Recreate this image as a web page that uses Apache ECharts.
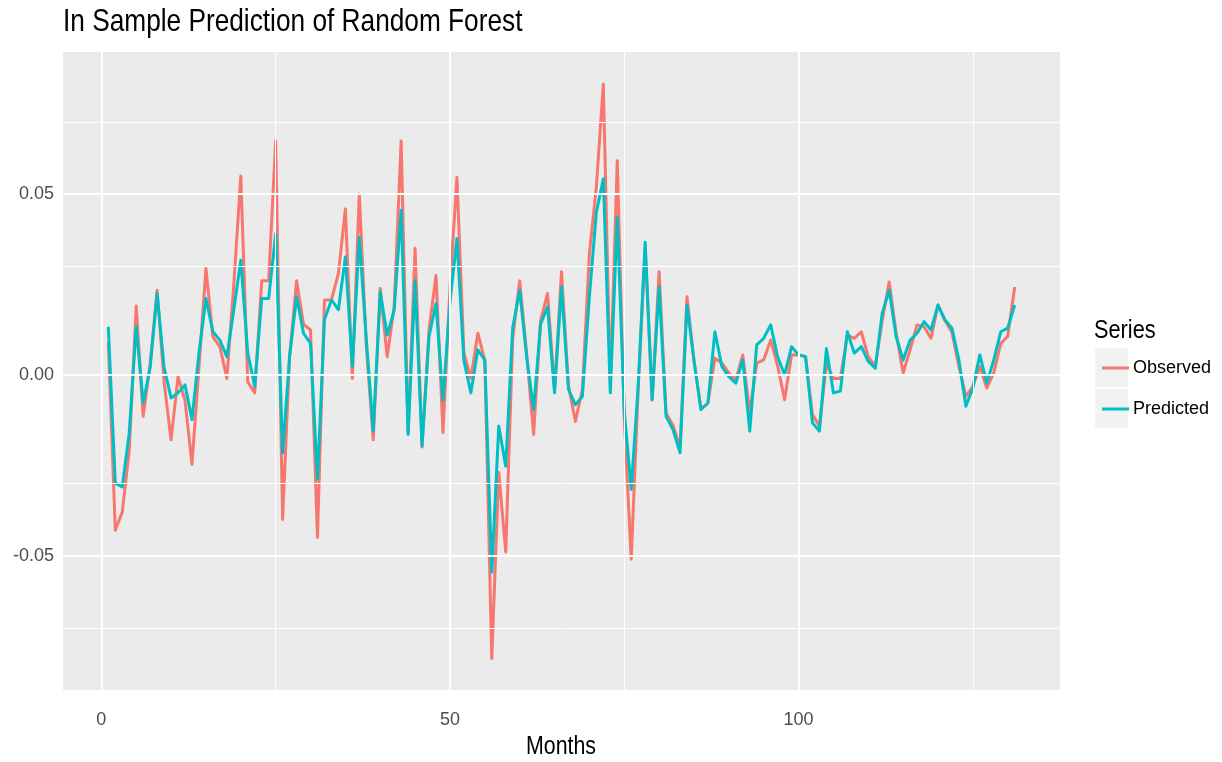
<!DOCTYPE html>
<html>
<head>
<meta charset="utf-8">
<title>In Sample Prediction of Random Forest</title>
<script src="https://cdn.jsdelivr.net/npm/echarts@6/dist/echarts.min.js"></script>
<style>
  html, body { margin: 0; padding: 0; background: #ffffff; }
  #chart { width: 1222px; height: 762px; }
</style>
</head>
<body>
<div id="chart"></div>
<script>
// Monthly returns, month 1 .. 131
const seriesNames = ['Observed', 'Predicted'];

const observed = [
  0.009, -0.043, -0.038, -0.021, 0.019, -0.0115, 0.003, 0.0234, -0.002, -0.018,
  -0.0005, -0.007, -0.0248, 0.002, 0.0294, 0.0105, 0.0078, -0.001, 0.025, 0.055,
  -0.002, -0.005, 0.026, 0.026, 0.0647, -0.040, 0.005, 0.026, 0.014, 0.0124,
  -0.045, 0.0207, 0.0207, 0.028, 0.0459, -0.001, 0.050, 0.008, -0.018, 0.0239,
  0.005, 0.0188, 0.0647, -0.016, 0.035, -0.020, 0.0124, 0.0275, -0.016, 0.024,
  0.0546, 0.006, -0.001, 0.0115, 0.004, -0.0785, -0.027, -0.049, 0.010, 0.026,
  0.006, -0.0165, 0.015, 0.0225, -0.004, 0.0285, -0.003, -0.0129, -0.004, 0.0335,
  0.052, 0.0804, -0.003, 0.0592, -0.012, -0.051, -0.004, 0.0353, -0.007, 0.0285,
  -0.0106, -0.014, -0.020, 0.0216, 0.004, -0.0096, -0.0078, 0.0046, 0.0032, 0.0005,
  -0.0014, 0.0055, -0.0106, 0.0032, 0.0041, 0.0096, 0.0025, -0.0069, 0.0055, 0.0055,
  0.005, -0.011, -0.0142, 0.003, -0.001, -0.001, 0.011, 0.0101, 0.0119, 0.005,
  0.0023, 0.015, 0.0257, 0.0115, 0.0005, 0.0069, 0.0138, 0.0133, 0.0101, 0.0193,
  0.015, 0.0118, 0.0023, -0.006, -0.0032, 0.0023, -0.0037, 0.0005, 0.0087, 0.0106,
  0.0243
];

const predicted = [
  0.0133, -0.030, -0.031, -0.016, 0.0133, -0.0078, 0.002, 0.0225, 0.002, -0.0064,
  -0.005, -0.0028, -0.0124, 0.006, 0.0211, 0.0119, 0.0096, 0.005, 0.018, 0.0317,
  0.006, -0.0032, 0.0211, 0.0211, 0.039, -0.0216, 0.005, 0.0216, 0.0115, 0.0087,
  -0.0289, 0.0152, 0.0207, 0.018, 0.0326, 0.0023, 0.038, 0.010, -0.0156, 0.0229,
  0.011, 0.0179, 0.0455, -0.0165, 0.026, -0.0197, 0.0106, 0.0197, -0.007, 0.020,
  0.0377, 0.004, -0.005, 0.0069, 0.0041, -0.0546, -0.0142, -0.0253, 0.013, 0.0234,
  0.005, -0.0096, 0.014, 0.0188, -0.005, 0.0243, -0.004, -0.0083, -0.006, 0.0216,
  0.045, 0.0542, -0.005, 0.0436, -0.010, -0.0317, -0.003, 0.0367, -0.0069, 0.0243,
  -0.0115, -0.0152, -0.0216, 0.0193, 0.004, -0.0096, -0.0078, 0.0119, 0.0023, -0.0005,
  -0.0023, 0.0041, -0.0156, 0.0083, 0.0101, 0.0138, 0.005, 0.0, 0.0078, 0.0055,
  0.0051, -0.0133, -0.0156, 0.0073, -0.005, -0.0045, 0.0119, 0.006, 0.0078, 0.0037,
  0.0018, 0.017, 0.0234, 0.0106, 0.0041, 0.0096, 0.0115, 0.0147, 0.0124, 0.0193,
  0.0152, 0.0129, 0.0041, -0.0087, -0.0037, 0.0055, -0.0023, 0.0041, 0.0119, 0.0129,
  0.0193
];

// Axis breaks
const xMajorTicks = [0, 50, 100];
const xMinorTicks = [25, 75, 125];
const yMajorTicks = [-0.05, 0, 0.05];
const yMinorTicks = [-0.075, -0.025, 0.025, 0.075];

const FONT = "'Liberation Sans', Arial, sans-serif";
const NARROW = 0.82;               // horizontal squeeze for the large text
const COLORS = ['#F8766D', '#00BFC4'];

// Panel grid: thin minor lines first, major lines on top
const gridLines = [
  ...yMinorTicks.map(v => ({ yAxis: v, lineStyle: { width: 1 } })),
  ...xMinorTicks.map(v => ({ xAxis: v, lineStyle: { width: 1 } })),
  ...yMajorTicks.map(v => ({ yAxis: v, lineStyle: { width: 2 } })),
  ...xMajorTicks.map(v => ({ xAxis: v, lineStyle: { width: 2 } }))
];

const toPoints = arr => arr.map((v, i) => [i + 1, v]);

const narrowText = (text, x, y, size, align) => ({
  type: 'text', x: x, y: y, scaleX: NARROW, silent: true,
  style: { text: text, fontFamily: FONT, fontSize: size, fill: '#000000', align: align, verticalAlign: 'middle' }
});

const chart = echarts.init(document.getElementById('chart'), null, { renderer: 'canvas' });

chart.setOption({
  animation: false,
  backgroundColor: '#ffffff',
  grid: {
    left: 63, right: 162, top: 52, bottom: 72,
    show: true, backgroundColor: '#EBEBEB', borderWidth: 0
  },
  legend: {
    data: seriesNames,
    orient: 'vertical',
    left: 1097,
    top: 353,
    itemWidth: 27,
    itemHeight: 3,
    itemGap: 21,
    icon: 'rect',
    selectedMode: false,
    textStyle: { fontFamily: FONT, fontSize: 18, color: '#000000', lineHeight: 20, padding: [0, 0, 0, -1] }
  },
  graphic: [
    narrowText('In Sample Prediction of Random Forest', 63, 22, 32, 'left'),
    narrowText('Months', 561, 747, 26, 'center'),
    narrowText('Series', 1094, 331, 26.5, 'left'),
    {
      type: 'rect', left: 1095, top: 348, silent: true, z: -1,
      shape: { width: 33, height: 39 },
      style: { fill: '#F2F2F2' }
    },
    {
      type: 'rect', left: 1095, top: 389, silent: true, z: -1,
      shape: { width: 33, height: 39 },
      style: { fill: '#F2F2F2' }
    }
  ],
  xAxis: {
    type: 'value',
    min: -5.5,
    max: 137.5,
    axisLine: { show: false },
    axisTick: { show: true, customValues: xMajorTicks, length: 6, lineStyle: { color: '#333333', width: 1.5 } },
    axisLabel: { customValues: xMajorTicks, fontFamily: FONT, fontSize: 18, color: '#4D4D4D', margin: 21 },
    splitLine: { show: false }
  },
  yAxis: {
    type: 'value',
    min: -0.0872,
    max: 0.0893,
    axisLine: { show: false },
    axisTick: { show: true, customValues: yMajorTicks, length: 6, lineStyle: { color: '#333333', width: 1.5 } },
    axisLabel: {
      customValues: yMajorTicks, fontFamily: FONT, fontSize: 18, color: '#4D4D4D', margin: 9,
      formatter: v => Number(v).toFixed(2)
    },
    splitLine: { show: false }
  },
  series: [
    {
      name: 'panel-grid',
      type: 'line',
      data: [],
      silent: true,
      z: 1,
      markLine: {
        silent: true,
        animation: false,
        symbol: ['none', 'none'],
        label: { show: false },
        emphasis: { disabled: true },
        lineStyle: { color: '#ffffff', type: 'solid' },
        data: gridLines
      }
    },
    {
      name: seriesNames[0],
      type: 'line',
      data: toPoints(observed),
      showSymbol: false,
      symbol: 'none',
      z: 3,
      itemStyle: { color: COLORS[0] },
      lineStyle: { color: COLORS[0], width: 3, join: 'round' },
      emphasis: { disabled: true }
    },
    {
      name: seriesNames[1],
      type: 'line',
      data: toPoints(predicted),
      showSymbol: false,
      symbol: 'none',
      z: 4,
      itemStyle: { color: COLORS[1] },
      lineStyle: { color: COLORS[1], width: 3, join: 'round' },
      emphasis: { disabled: true }
    }
  ]
});
</script>
</body>
</html>
